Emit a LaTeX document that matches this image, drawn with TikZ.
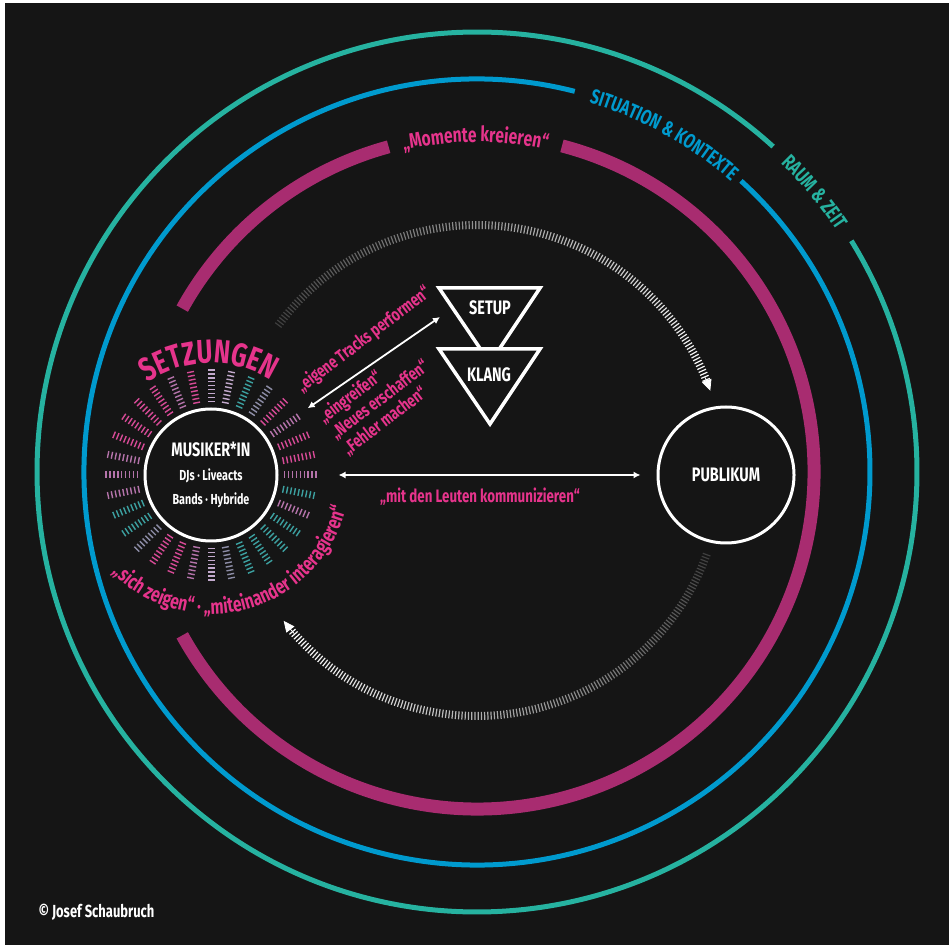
\documentclass[tikz,border=0pt]{standalone}
\usepackage{fontspec}
\setmainfont{Fira Sans}[FakeStretch=0.74]
\usepackage{tikz}
\usetikzlibrary{arrows.meta,calc,decorations.text}
\definecolor{bgDark}{RGB}{21,21,21}
\definecolor{pinkTxt}{RGB}{230,52,140}
\definecolor{magRing}{RGB}{168,44,112}
\definecolor{blueRing}{RGB}{0,154,206}
\definecolor{tealRing}{RGB}{38,178,160}
\definecolor{tp}{RGB}{214,74,150}
\definecolor{tm}{RGB}{180,115,170}
\definecolor{tl}{RGB}{195,170,205}
\definecolor{tt}{RGB}{60,160,160}
\definecolor{tg}{RGB}{140,140,165}
\newcommand\saysize{\fontsize{18}{20.4}\selectfont\bfseries}
\newcommand\ringfont{\fontsize{20.5}{20.5}\selectfont\bfseries}
\newcommand\setzfont{\fontsize{33}{33}\selectfont\bfseries}
\newcommand\headfont{\fontsize{19.5}{24}\selectfont\bfseries}

\begin{document}
\begin{tikzpicture}[
  x=1pt, y=1pt,
  font=\bfseries,
  actor/.style = {circle, draw=white, line width=3pt, inner sep=0pt,
                  align=center, text=white},
  say/.style = {text=pinkTxt, font=\saysize, inner sep=0pt},
  tri/.style = {draw=white, line width=3.5pt, line join=miter},
  dbl/.style = {{Latex[length=7pt,width=7pt]}-{Latex[length=7pt,width=7pt]},
                white, line width=1.8pt},
  cluster/.style = {line width=7pt, dash pattern=on 1.4pt off 2.5pt},
  dashtick/.style = {line width=1.2pt},
  bandline/.style = {line width=5pt}
]
% page and background
\useasboundingbox (0,0) rectangle (949,945);
\fill[white] (0,0) rectangle (949,945);
\fill[bgDark] (5,0) rectangle (949,942);

\coordinate (ctr) at (477,473);

% Outer rings with their labels in the gaps
\draw[bandline, tealRing] ($(ctr)+(47.7:440)$) arc[start angle=47.7, end angle=391.7, radius=440];
\draw[bandline, blueRing] ($(ctr)+(75.6:393)$) arc[start angle=75.6, end angle=407.8, radius=393];
\draw[line width=13pt, magRing] ($(ctr)+(105.2:337)$) arc[start angle=105.2, end angle=151, radius=337];
\draw[line width=13pt, magRing] ($(ctr)+(209:337)$) arc[start angle=209, end angle=435.4, radius=337];

\path[decorate, decoration={text along path, text align=center, text color=tealRing,
      text={|\ringfont|RAUM {\&} ZEIT}}]
  ($(ctr)+(52:433)$) arc[start angle=52, end angle=27.4, radius=433];
\path[decorate, decoration={text along path, text align=center, text color=blueRing,
      text={|\ringfont|SITUATION {\&} KONTEXTE}}]
  ($(ctr)+(80:386)$) arc[start angle=80, end angle=42, radius=386];
\path[decorate, decoration={text along path, text align=center, text color=pinkTxt,
      text={|\fontsize{21}{21}\selectfont\bfseries|„Momente kreieren“}}]
  ($(ctr)+(115:330)$) arc[start angle=115, end angle=65.6, radius=330];

% Dashed cycle arcs, fading in towards the arrow heads
\foreach \i in {0,...,160}{
  \pgfmathsetmacro{\ang}{143.5-0.76*\i}
  \pgfmathtruncatemacro{\lum}{18+82*\i/160}
  \draw[dashtick, white!\lum!bgDark] ($(ctr)+(\ang:243)$) -- ($(ctr)+(\ang:251)$);
}
\draw[white, line width=0.8pt, -{Triangle[length=11pt,width=10pt]}]
  ($(ctr)+(22.5:247)$) arc[start angle=22.5, end angle=19.2, radius=247];
\foreach \i in {0,...,157}{
  \pgfmathsetmacro{\ang}{-19.8-0.76*\i}
  \pgfmathtruncatemacro{\lum}{18+82*\i/157}
  \draw[dashtick, white!\lum!bgDark] ($(ctr)+(\ang:240)$) -- ($(ctr)+(\ang:248)$);
}
\draw[white, line width=0.8pt, -{Triangle[length=11pt,width=10pt]}]
  ($(ctr)+(-138.6:244)$) arc[start angle=-138.6, end angle=-142.4, radius=244];

% Actors
\node[actor, minimum size=132pt, font=\fontsize{14.5}{24}\selectfont\bfseries] (musiker) at (211,470)
  {{\headfont MUSIKER*IN}\\DJs · Liveacts\\Bands · Hybride};
\node[actor, minimum size=136pt, font=\headfont] (publikum) at (726,470) {PUBLIKUM};

% tick ring round the musicians
\foreach \c [count=\i from 0] in {tm,tp,tp,tm,tp,tg,tt,tl,tl,tp,tm,tp,tp,tp,tp,tm,
                                  tm,tm,tt,tt,tg,tp,tp,tm,tl,tg,tt,tt,tt,tt,tm,tt}{
  \draw[cluster, \c] ($(musiker.center)+({\i*11.25}:73)$) -- ($(musiker.center)+({\i*11.25}:106)$);
}

\path[decorate, decoration={text along path, text align=center, text color=pinkTxt,
      text={|\setzfont|SETZUNGEN}}]
  ($(musiker.center)+(150:112)$) arc[start angle=150, end angle=32, radius=112];
\path[decorate, decoration={text along path, text align=center, text color=pinkTxt,
      text={|\fontsize{21}{21}\selectfont\bfseries|„sich zeigen“ · „miteinander interagieren“}}]
  ($(musiker.center)+(195:139)$) arc[start angle=195, end angle=376, radius=139];

% Setup and sound
\draw[tri] (439,657) -- (540,657) -- (490,582) -- cycle;
\draw[tri, fill=bgDark] (439,596) -- (540,596) -- (490,521) -- cycle;
\node[text=white, font=\headfont] (setup) at (490,637) {SETUP};
\node[text=white, font=\headfont] (klang) at (489,570) {KLANG};

% Connectors
\coordinate (tracksEnd) at (440,628);
\draw[dbl, shorten <=50pt] (musiker) -- (tracksEnd);
\draw[dbl, shorten <=60pt, shorten >=16pt] (musiker) -- (publikum);

% Statements
\node[say] (komm) at (480,448) {„mit den Leuten kommunizieren“};
\node[say, rotate=37, anchor=base west] (tracks) at (302,552) {„eigene Tracks performen“};
\node[say, rotate=37, anchor=base west] (eingr) at (324,521) {„eingreifen“};
\node[say, rotate=37, anchor=base west] (neues) at (336,505) {„Neues erschaffen“};
\node[say, rotate=37, anchor=base west] (fehler) at (348,489) {„Fehler machen“};

\node[anchor=west, text=white, font=\fontsize{17.5}{20}\selectfont\bfseries] (copy) at (35,33) {© Josef Schaubruch};
\end{tikzpicture}
\end{document}
